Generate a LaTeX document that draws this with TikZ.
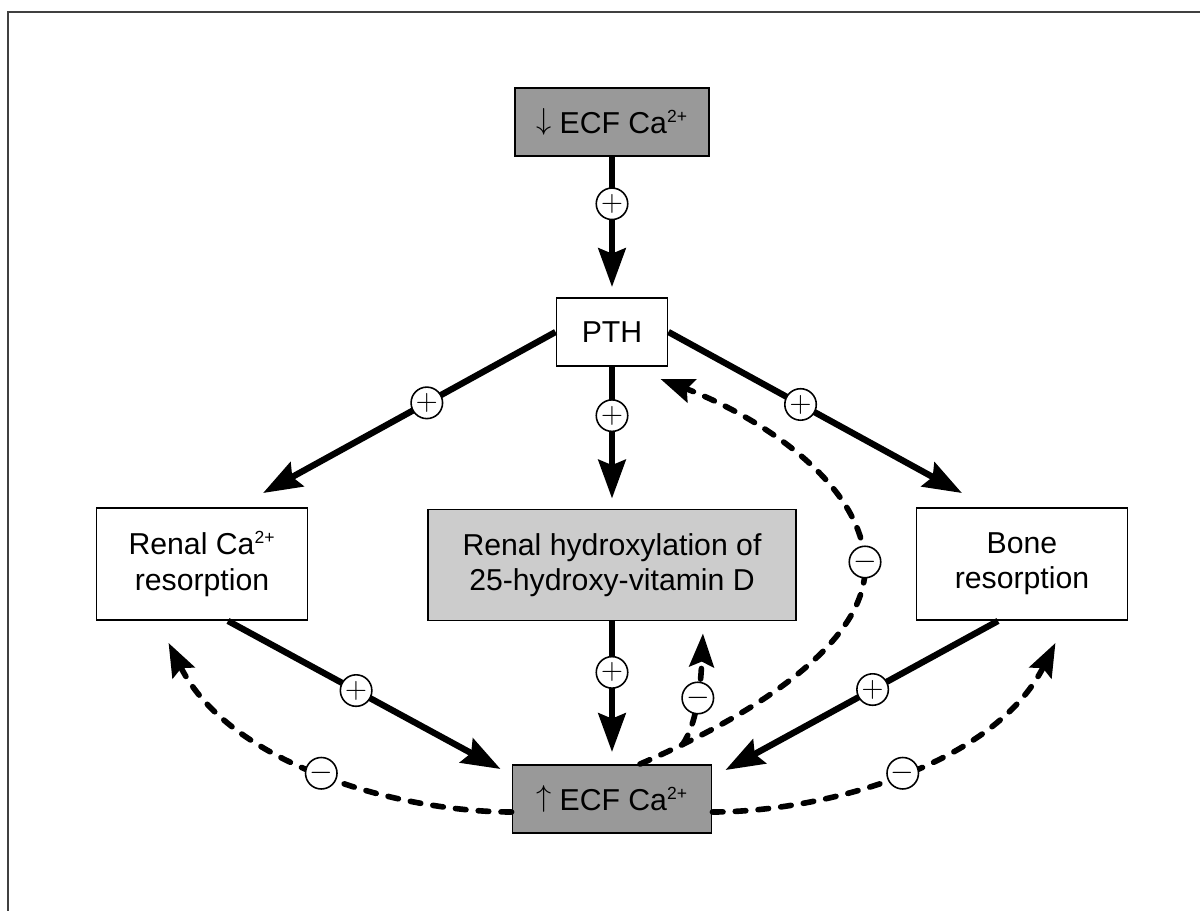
\documentclass[tikz,border=0pt]{standalone}
\usepackage{fontspec}
\setmainfont{Liberation Sans}
\usetikzlibrary{arrows.meta, positioning, calc}

\newcommand{\caion}{Ca\textsuperscript{\fontsize{10}{10}\selectfont 2+}}

\begin{document}
\begin{tikzpicture}[x=0.02cm, y=-0.02cm, align=center,
    every node/.style={font=\fontsize{17.2}{20}\selectfont},
    box/.style={draw, rectangle, line width=1.1pt, inner sep=0pt},
    act/.style={line width=3.6pt, -{Stealth[length=22pt, width=15.5pt, inset=3pt]}},
    fb/.style={line width=3.2pt, dash pattern=on 6pt off 7pt, line cap=round,
        -{Stealth[length=19pt, width=14pt, inset=3pt]}},
    sign/.style={draw, solid, circle, fill=white, line width=0.9pt, minimum size=0.63cm,
        inner sep=0pt, font=\fontsize{17}{17}\selectfont}]
    \useasboundingbox (0,0) rectangle (1200,911);
    % Draw the frame
    \draw[line width=1.3pt, black!75] (8,911) |- (1200,12);

    % Draw the blocks
    \node[box, fill=black!40, minimum width=3.88cm, minimum height=1.36cm] (low) at (612,122) {\raisebox{0.25ex}{$\downarrow$} ECF \caion};
    \node[box, minimum width=2.22cm, minimum height=1.36cm] (pth) at (612,332) {PTH};
    \node[box, minimum width=4.22cm, minimum height=2.24cm] (rca) at (202,564) {Renal \caion\\resorption};
    \node[box, fill=black!20, minimum width=7.36cm, minimum height=2.22cm] (hydro) at (612,565) {Renal hydroxylation of\\25-hydroxy-vitamin D};
    \node[box, minimum width=4.22cm, minimum height=2.24cm] (bone) at (1022,564) {Bone\\resorption};
    \node[box, fill=black!40, minimum width=3.98cm, minimum height=1.36cm] (high) at (612,799) {\raisebox{0.25ex}{$\uparrow$} ECF \caion};

    % Draw the stimulating arrows
    \draw[act] (low.south) -- ($(pth.north)+(0,-10)$) node[sign, pos=0.36] {$+$};
    \draw[act] (pth.west) -- ($(rca.north)+(61,-14)$) node[sign, pos=0.44] {$+$};
    \draw[act] (pth.south) -- ($(hydro.north)+(0,-10)$) node[sign, pos=0.37] {$+$};
    \draw[act] (pth.east) -- ($(bone.north)+(-60,-14)$) node[sign, pos=0.45] {$+$};
    \draw[act] ($(rca.south)+(26,0)$) -- ($(high.north west)+(-11,5)$) node[sign, pos=0.47] {$+$};
    \draw[act] (hydro.south) -- ($(high.north)+(0,-12)$) node[sign, pos=0.39] {$+$};
    \draw[act] ($(bone.south)+(-24,0)$) -- ($(high.north east)+(13,6)$) node[sign, pos=0.46] {$+$};

    % Draw the feedback arrows
    \draw[fb] ($(high.west)+(0,13)$) .. controls (400,812) and (230,765) .. ($(rca.south west)+(73,22)$)
        node[sign, pos=0.5] {$-$};
    \draw[fb] ($(high.east)+(0,13)$) .. controls (824,812) and (994,765) .. ($(bone.south east)+(-73,22)$)
        node[sign, pos=0.5] {$-$};
    \draw[fb] ($(high.north)+(28,0)$) .. controls (760,712) and (870,640) .. (865,562)
        coordinate[pos=0.12] (fork) node[sign] {$-$}
        .. controls (860,480) and (755,415) .. ($(pth.south east)+(-8,12)$);
    \draw[fb] (fork) .. controls (698,722) and (701,680) .. ($(hydro.south east)+(-94,12)$)
        node[sign, pos=0.5] {$-$};
\end{tikzpicture}
\end{document}
